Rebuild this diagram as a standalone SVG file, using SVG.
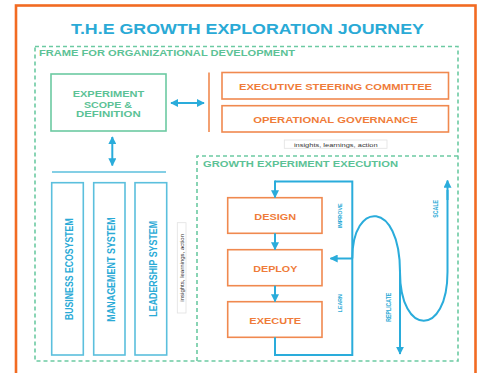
<svg xmlns="http://www.w3.org/2000/svg" width="480" height="373" viewBox="0 0 480 373">
<defs>
<style>
.t{font-family:"Liberation Sans",Arial,sans-serif;font-weight:bold}
.blue{fill:#2aaad6}
.green{fill:#5cc296}
.orange{fill:#ef7c3a}
.dash{fill:none;stroke:#6ccaa2;stroke-width:1.6;stroke-dasharray:4 3}
.obox{fill:#fff;stroke:#f0894f;stroke-width:1.6}
.bbox{fill:#fff;stroke:#5bbfdd;stroke-width:1.6}
.gbox{fill:#fff;stroke:#6ccaa2;stroke-width:1.6}
.ln{fill:none;stroke:#2aacdb;stroke-width:2}
.lnA{fill:none;stroke:#2aacdb;stroke-width:2;marker-end:url(#ah)}
.dbl{fill:none;stroke:#2aacdb;stroke-width:2;marker-end:url(#ah);marker-start:url(#ah)}
.small{font-family:"Liberation Sans",Arial,sans-serif;fill:#333}
</style>
<marker id="ah" viewBox="0 0 10 10" refX="9" refY="5" markerWidth="4" markerHeight="4" orient="auto-start-reverse" markerUnits="strokeWidth">
<path d="M0,0 L10,5 L0,10 Z" fill="#2aacdb"/>
</marker>
</defs>
<rect width="480" height="373" fill="#fff"/>
<rect x="16" y="5.5" width="459.5" height="400" fill="none" stroke="#f26b22" stroke-width="2.6"/>
<text class="t blue" x="247.5" y="34.3" font-size="14" text-anchor="middle" textLength="353" lengthAdjust="spacingAndGlyphs">T.H.E GROWTH EXPLORATION JOURNEY</text>

<g id="frame-org">
<rect class="dash" x="35" y="46.5" width="423" height="314.5"/>
<text class="t green" x="39" y="56" font-size="9.3" textLength="256" lengthAdjust="spacingAndGlyphs">FRAME FOR ORGANIZATIONAL DEVELOPMENT</text>
</g>

<g id="experiment-scope">
<rect class="gbox" x="51" y="74" width="115" height="57"/>
<text class="t green" x="108.5" y="96.7" font-size="9.3" text-anchor="middle" textLength="71.6" lengthAdjust="spacingAndGlyphs">EXPERIMENT</text>
<text class="t green" x="108" y="108.3" font-size="9.3" text-anchor="middle" textLength="48" lengthAdjust="spacingAndGlyphs">SCOPE &amp;</text>
<text class="t green" x="108.3" y="117.3" font-size="9.3" text-anchor="middle" textLength="64.7" lengthAdjust="spacingAndGlyphs">DEFINITION</text>
</g>

<g id="governance-bar">
<line x1="209" y1="72.5" x2="209" y2="132" stroke="#f0894f" stroke-width="1.6"/>
</g>

<g id="executive-steering">
<rect class="obox" x="222" y="72.5" width="226.5" height="26.5"/>
<text class="t orange" x="335.5" y="90" font-size="9.3" text-anchor="middle" textLength="193" lengthAdjust="spacingAndGlyphs">EXECUTIVE STEERING COMMITTEE</text>
</g>

<g id="operational-governance">
<rect class="obox" x="222" y="105.7" width="226.5" height="26.3"/>
<text class="t orange" x="335.5" y="123.3" font-size="9.3" text-anchor="middle" textLength="164.4" lengthAdjust="spacingAndGlyphs">OPERATIONAL  GOVERNANCE</text>
</g>

<g id="insights-top">
<rect x="284.3" y="140" width="102.7" height="8.3" fill="#fff" stroke="#e2e2e2" stroke-width="0.8"/>
<text class="small" x="335.8" y="146.5" font-size="5.6" text-anchor="middle" textLength="83.7" lengthAdjust="spacingAndGlyphs">insights, learnings, action</text>
</g>

<g id="business-ecosystem">
<rect class="bbox" x="51.7" y="182.7" width="31.6" height="172.3"/>
<text class="t blue" transform="translate(73.3,269.2) rotate(-90)" font-size="11.3" text-anchor="middle" textLength="101.7" lengthAdjust="spacingAndGlyphs">BUSINESS ECOSYSTEM</text>
</g>
<g id="management-system">
<rect class="bbox" x="93.7" y="182.7" width="31.3" height="172.3"/>
<text class="t blue" transform="translate(115,269.5) rotate(-90)" font-size="11.3" text-anchor="middle" textLength="104.4" lengthAdjust="spacingAndGlyphs">MANAGEMENT SYSTEM</text>
</g>
<g id="leadership-system">
<rect class="bbox" x="135" y="182.7" width="31.7" height="172.3"/>
<text class="t blue" transform="translate(156.7,268.8) rotate(-90)" font-size="11.3" text-anchor="middle" textLength="95.7" lengthAdjust="spacingAndGlyphs">LEADERSHIP SYSTEM</text>
</g>

<g id="insights-side">
<rect x="177.3" y="222.7" width="8.7" height="90.3" fill="#fff" stroke="#e2e2e2" stroke-width="0.8"/>
<text class="small" transform="translate(183.9,267.8) rotate(-90)" font-size="5.8" text-anchor="middle" textLength="67.7" lengthAdjust="spacingAndGlyphs">insights, learnings, action</text>
</g>

<g id="frame-growth">
<path class="dash" d="M197,361 V156 H458"/>
<text class="t green" x="203" y="166.7" font-size="8.8" textLength="195" lengthAdjust="spacingAndGlyphs">GROWTH EXPERIMENT EXECUTION</text>
</g>

<g id="design">
<rect class="obox" x="227.7" y="197.7" width="94.3" height="35.6"/>
<text class="t orange" x="275.2" y="220" font-size="9.3" text-anchor="middle" textLength="41.7" lengthAdjust="spacingAndGlyphs">DESIGN</text>
</g>
<g id="deploy">
<rect class="obox" x="227.7" y="249.7" width="94.3" height="36"/>
<text class="t orange" x="275.3" y="271.7" font-size="9.3" text-anchor="middle" textLength="44" lengthAdjust="spacingAndGlyphs">DEPLOY</text>
</g>
<g id="execute">
<rect class="obox" x="227.7" y="301.7" width="94.3" height="35.6"/>
<text class="t orange" x="275.2" y="324" font-size="9.3" text-anchor="middle" textLength="51.7" lengthAdjust="spacingAndGlyphs">EXECUTE</text>
</g>

<g id="connectors">
<line class="dbl" x1="171" y1="103" x2="204" y2="103"/>
<line class="dbl" x1="112.3" y1="137" x2="112.3" y2="165.5"/>
<line x1="52" y1="172" x2="166" y2="172" stroke="#5bbfdd" stroke-width="1.6"/>
<line class="lnA" x1="275" y1="233.3" x2="275" y2="249.5"/>
<line class="lnA" x1="275" y1="285.7" x2="275" y2="301.5"/>
<path class="ln" d="M275,337.3 V355 H352.3 V181.5 H275"/>
<line class="lnA" x1="275" y1="180.5" x2="275" y2="197.5"/>
<line class="lnA" x1="352.3" y1="258.5" x2="330.5" y2="258.5"/>
<path class="ln" d="M352.3,258.5 C352.3,200 400,200 400,272 C400,337 447.5,337 447.5,272 V190"/>
<line class="lnA" x1="447.5" y1="200" x2="447.5" y2="180.5"/>
<line class="lnA" x1="400" y1="270" x2="400" y2="354"/>
</g>

<g id="labels">
<text class="t blue" transform="translate(342.3,215.8) rotate(-90)" font-size="5.8" text-anchor="middle" textLength="25" lengthAdjust="spacingAndGlyphs">IMPROVE</text>
<text class="t blue" transform="translate(342.3,303.2) rotate(-90)" font-size="5.8" text-anchor="middle" textLength="18.3" lengthAdjust="spacingAndGlyphs">LEARN</text>
<text class="t blue" transform="translate(390.7,307.2) rotate(-90)" font-size="6.5" text-anchor="middle" textLength="29" lengthAdjust="spacingAndGlyphs">REPLICATE</text>
<text class="t blue" transform="translate(437.7,208.8) rotate(-90)" font-size="6.5" text-anchor="middle" textLength="17.7" lengthAdjust="spacingAndGlyphs">SCALE</text>
</g>
</svg>
